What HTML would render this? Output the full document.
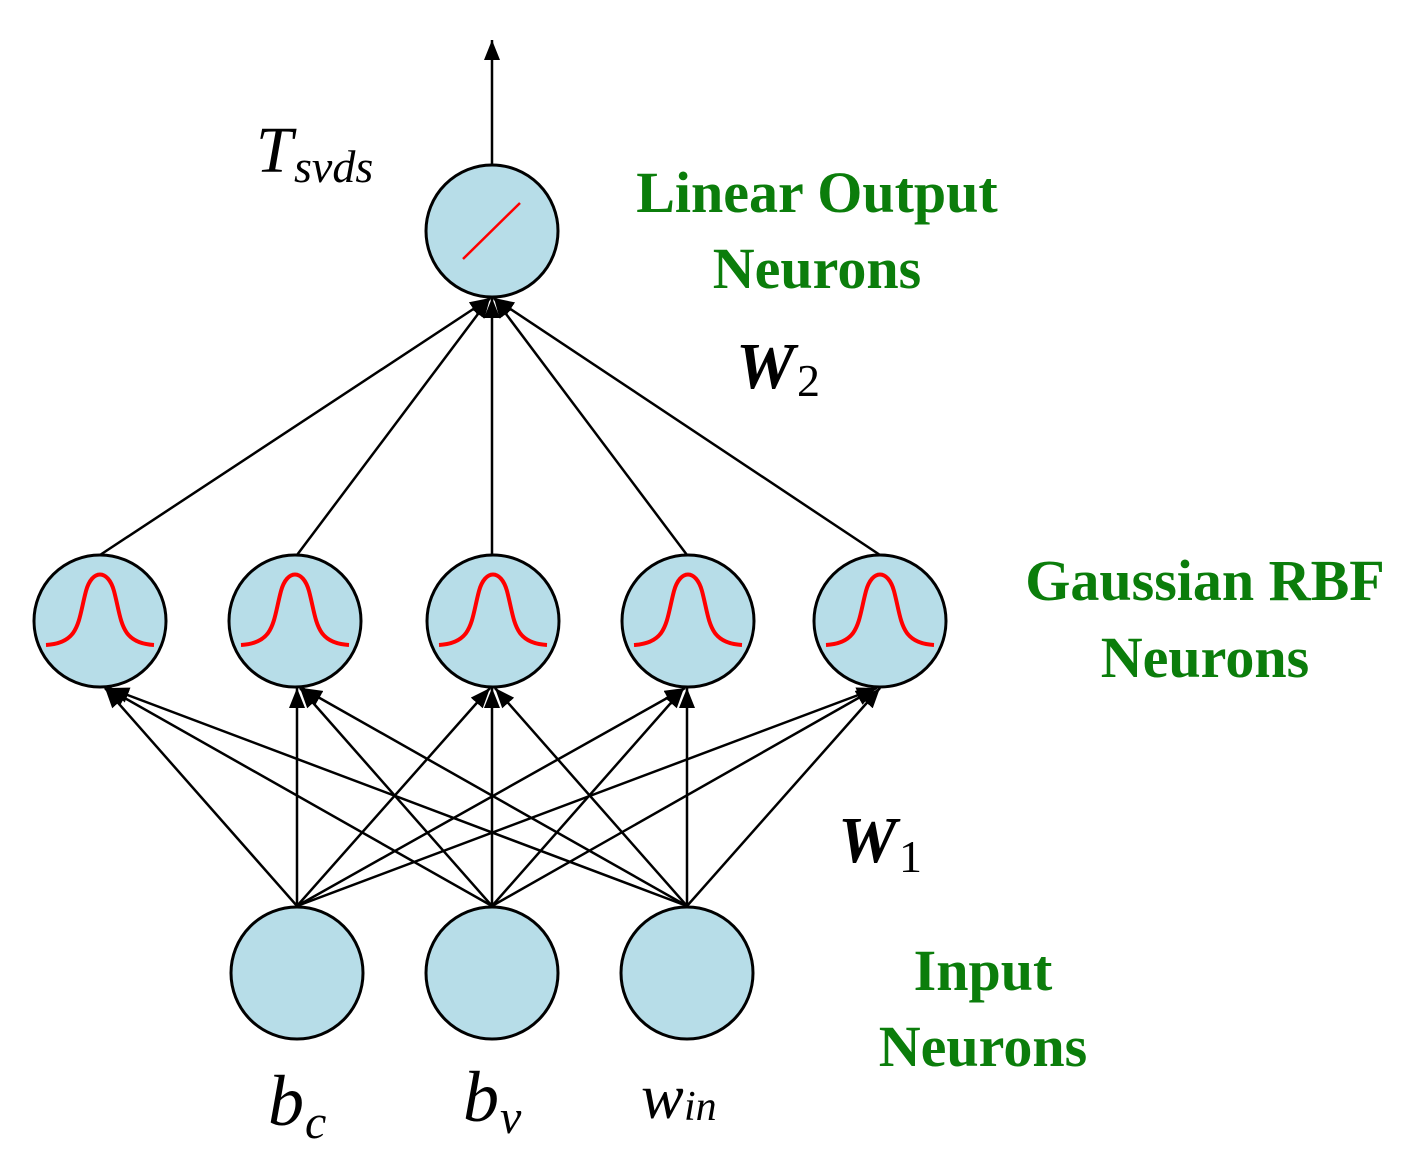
<!DOCTYPE html>
<html><head><meta charset="utf-8"><style>
html,body{margin:0;padding:0;background:#fff;}
svg{display:block;}
text{font-family:"Liberation Serif","Times New Roman",Times,serif;}
</style></head><body>
<svg width="1414" height="1152" viewBox="0 0 1414 1152" xmlns="http://www.w3.org/2000/svg">
<defs>
<marker id="b" markerWidth="20" markerHeight="16" refX="20" refY="8" orient="auto" markerUnits="userSpaceOnUse" viewBox="0 0 20 16">
<path d="M0,0 L20,8 L0,16 z" fill="#000"/>
</marker>
<path id="g" d="M-54,24 C-20,22 -22,0 -14,-30 C-8,-52 8,-52 14,-30 C22,0 20,22 54,24"/>
</defs>
<g stroke="#000" stroke-width="2.5" fill="none">
<line x1="492" y1="165" x2="492" y2="40" marker-end="url(#b)"/>
<line x1="100" y1="555" x2="490" y2="298" marker-end="url(#b)"/>
<line x1="297" y1="555" x2="490" y2="298" marker-end="url(#b)"/>
<line x1="492" y1="555" x2="492" y2="298" marker-end="url(#b)"/>
<line x1="687" y1="555" x2="494" y2="298" marker-end="url(#b)"/>
<line x1="880" y1="555" x2="494" y2="298" marker-end="url(#b)"/>
<g marker-end="url(#b)">
<line x1="297" y1="906" x2="105" y2="688"/>
<line x1="297" y1="906" x2="297" y2="688"/>
<line x1="297" y1="906" x2="490" y2="688"/>
<line x1="297" y1="906" x2="685" y2="688"/>
<line x1="297" y1="906" x2="877" y2="688"/>
<line x1="492" y1="906" x2="107" y2="688"/>
<line x1="492" y1="906" x2="300" y2="688"/>
<line x1="492" y1="906" x2="492" y2="688"/>
<line x1="492" y1="906" x2="684" y2="688"/>
<line x1="492" y1="906" x2="876" y2="688"/>
<line x1="687" y1="906" x2="109" y2="688"/>
<line x1="687" y1="906" x2="302" y2="688"/>
<line x1="687" y1="906" x2="495" y2="688"/>
<line x1="687" y1="906" x2="687" y2="688"/>
<line x1="687" y1="906" x2="880" y2="688"/>
</g>
</g>
<g fill="#b7dde8" stroke="#000" stroke-width="3">
<circle cx="492" cy="231" r="66"/>
<circle cx="100" cy="621" r="66"/>
<circle cx="295" cy="621" r="66"/>
<circle cx="493" cy="621" r="66"/>
<circle cx="688" cy="621" r="66"/>
<circle cx="880" cy="621" r="66"/>
<circle cx="297" cy="973" r="66"/>
<circle cx="492" cy="973" r="66"/>
<circle cx="687" cy="973" r="66"/>
</g>
<line x1="463" y1="259" x2="520" y2="203" stroke="#f00" stroke-width="2.5"/>
<g fill="none" stroke="#f00" stroke-width="4">
<use href="#g" x="100" y="621"/>
<use href="#g" x="295" y="621"/>
<use href="#g" x="493" y="621"/>
<use href="#g" x="688" y="621"/>
<use href="#g" x="880" y="621"/>
</g>
<g font-weight="bold" fill="#0b7d0b" font-size="58" text-anchor="middle">
<text x="817" y="212">Linear Output</text>
<text x="817" y="288">Neurons</text>
<text x="1205" y="600">Gaussian RBF</text>
<text x="1205" y="677">Neurons</text>
<text x="983" y="990">Input</text>
<text x="983" y="1066">Neurons</text>
</g>
<g fill="#000">
<text x="256" y="172" font-size="66" font-style="italic">T</text>
<text x="294" y="182" font-size="46" font-style="italic">svds</text>
<text x="736" y="388" font-size="66" font-style="italic" font-weight="bold">W</text>
<text x="797" y="396" font-size="46">2</text>
<text x="838" y="862" font-size="66" font-style="italic" font-weight="bold">W</text>
<text x="899" y="872" font-size="46">1</text>
<text x="268" y="1125" font-size="72" font-style="italic">b</text>
<text x="305" y="1138" font-size="48" font-style="italic">c</text>
<text x="463" y="1121" font-size="72" font-style="italic">b</text>
<text x="500" y="1133" font-size="48" font-style="italic">v</text>
<text x="641" y="1118" font-size="64" font-style="italic">w</text>
<text x="684" y="1120" font-size="42" font-style="italic">in</text>
</g>
</svg>
</body></html>
